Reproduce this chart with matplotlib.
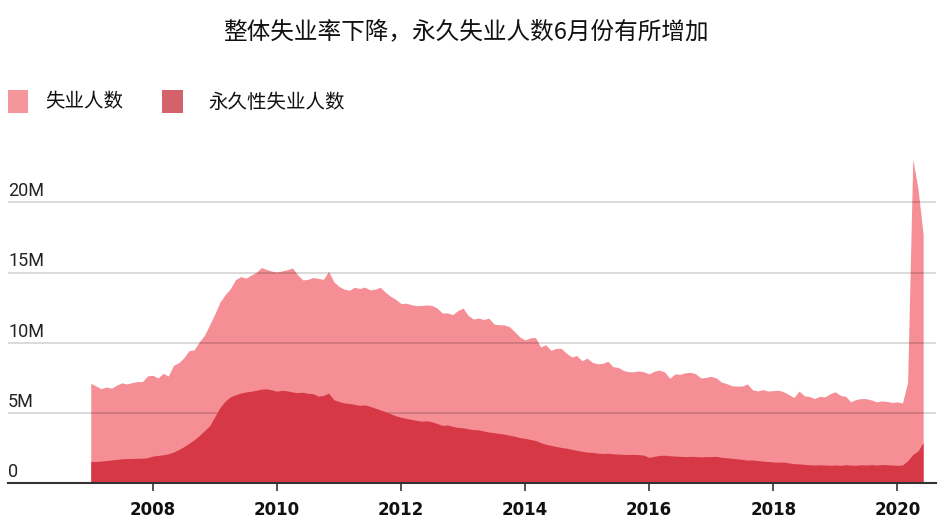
import numpy as np
import matplotlib
matplotlib.use("Agg")
import matplotlib.pyplot as plt
from matplotlib.patches import Rectangle

plt.rcParams['font.family'] = ['Noto Sans CJK SC', 'DejaVu Sans']

# ---------------- data ----------------
title = "整体失业率下降，永久失业人数6月份有所增加"
series_names = ["失业人数", "永久性失业人数"]
start_year = 2007  # monthly data, Jan 2007 - Jun 2020

# total unemployed (millions)
total_unemployed = [
    7.116, 6.927, 6.731, 6.850, 6.766, 6.979, 7.149, 7.067, 7.170, 7.237, 7.240, 7.645,
    7.685, 7.497, 7.822, 7.637, 8.395, 8.575, 8.937, 9.438, 9.494, 10.074, 10.538, 11.286,
    12.058, 12.898, 13.426, 13.853, 14.499, 14.707, 14.601, 14.814, 15.009, 15.352, 15.219, 15.098,
    15.046, 15.113, 15.202, 15.325, 14.849, 14.474, 14.512, 14.648, 14.579, 14.516, 15.081, 14.348,
    14.013, 13.820, 13.737, 13.957, 13.855, 13.962, 13.763, 13.818, 13.948, 13.594, 13.302, 13.093,
    12.797, 12.813, 12.713, 12.646, 12.660, 12.692, 12.656, 12.471, 12.115, 12.124, 12.005, 12.298,
    12.471, 11.950, 11.689, 11.760, 11.654, 11.751, 11.335, 11.279, 11.270, 11.136, 10.787, 10.404,
    10.202, 10.349, 10.380, 9.702, 9.859, 9.460, 9.608, 9.599, 9.262, 8.990, 9.090, 8.717,
    8.903, 8.610, 8.504, 8.526, 8.689, 8.296, 8.248, 8.039, 7.942, 7.938, 7.995, 7.933,
    7.784, 7.980, 8.058, 7.919, 7.468, 7.787, 7.753, 7.867, 7.899, 7.793, 7.497, 7.535,
    7.616, 7.491, 7.196, 7.091, 6.946, 6.919, 6.922, 7.070, 6.655, 6.573, 6.664, 6.566,
    6.594, 6.621, 6.519, 6.319, 6.099, 6.565, 6.227, 6.176, 6.031, 6.185, 6.150, 6.375,
    6.513, 6.260, 6.190, 5.800, 5.962, 6.032, 6.020, 5.932, 5.790, 5.866, 5.826, 5.753,
    5.796, 5.717, 7.185, 23.078, 20.985, 17.697,
]

# permanent job losers (millions)
permanent_losers = [
    1.56, 1.55, 1.58, 1.62, 1.66, 1.70, 1.74, 1.76, 1.77, 1.78, 1.79, 1.82,
    1.94, 1.98, 2.03, 2.10, 2.22, 2.40, 2.60, 2.85, 3.10, 3.40, 3.75, 4.10,
    4.75, 5.40, 5.85, 6.15, 6.30, 6.42, 6.50, 6.55, 6.62, 6.70, 6.72, 6.65,
    6.55, 6.62, 6.58, 6.50, 6.45, 6.48, 6.40, 6.38, 6.20, 6.25, 6.42, 5.95,
    5.82, 5.72, 5.68, 5.62, 5.55, 5.58, 5.48, 5.35, 5.22, 5.10, 4.95, 4.80,
    4.70, 4.62, 4.55, 4.48, 4.42, 4.45, 4.38, 4.25, 4.12, 4.15, 4.05, 3.98,
    3.95, 3.88, 3.82, 3.80, 3.72, 3.65, 3.60, 3.55, 3.50, 3.42, 3.35, 3.25,
    3.20, 3.12, 3.05, 2.90, 2.78, 2.70, 2.62, 2.55, 2.50, 2.42, 2.35, 2.28,
    2.22, 2.20, 2.15, 2.12, 2.14, 2.10, 2.08, 2.06, 2.05, 2.06, 2.04, 2.00,
    1.84, 1.92, 1.98, 2.00, 1.96, 1.94, 1.92, 1.90, 1.92, 1.90, 1.88, 1.90,
    1.90, 1.92, 1.85, 1.82, 1.78, 1.74, 1.70, 1.65, 1.66, 1.62, 1.58, 1.55,
    1.52, 1.50, 1.52, 1.45, 1.40, 1.38, 1.35, 1.32, 1.30, 1.32, 1.30, 1.28,
    1.30, 1.28, 1.32, 1.30, 1.28, 1.32, 1.30, 1.33, 1.30, 1.34, 1.32, 1.30,
    1.28, 1.30, 1.60, 2.05, 2.30, 2.90,
]

x_ticks = [2008, 2010, 2012, 2014, 2016, 2018, 2020]
x_tick_labels = ["2008", "2010", "2012", "2014", "2016", "2018", "2020"]
y_ticks = [0, 5, 10, 15, 20]
y_tick_labels = ["0", "5M", "10M", "15M", "20M"]

# ---------------- style ----------------
light = "#F58E95"
dark = "#D63845"
legend_light = "#F5969C"
legend_dark = "#D4626B"

W, H = 949, 532
fig = plt.figure(figsize=(W / 100, H / 100), dpi=100)
ax = fig.add_axes([8 / W, 48.7 / H, 928 / W, 0.6339])

x = start_year + np.arange(len(total_unemployed)) / 12.0
ax.fill_between(x, total_unemployed, 0, color=light, lw=0, zorder=1)
ax.fill_between(x, permanent_losers, 0, color=dark, lw=0, zorder=3)

for v in y_ticks[1:]:
    ax.axhline(v, color="black", alpha=0.17, lw=1.2, zorder=2)

ax.set_xlim(2005.666, 2020.624)
ax.set_ylim(0, 24)

for s in ["left", "top", "right"]:
    ax.spines[s].set_visible(False)
ax.spines["bottom"].set_color("#333333")
ax.spines["bottom"].set_linewidth(1.5)
ax.spines["bottom"].set_zorder(5)

ax.set_yticks([])
ax.set_xticks(x_ticks)
ax.set_xticklabels(x_tick_labels, fontfamily="DejaVu Sans", fontweight="bold",
                   fontsize=12, color="#111111")
ax.tick_params(axis="x", length=6, width=1.2, color="#333333", pad=7)

for v, lab in zip(y_ticks, y_tick_labels):
    ax.annotate(lab, xy=(0, v), xycoords=("axes fraction", "data"),
                xytext=(0, 4.5), textcoords="offset points",
                ha="left", va="baseline", fontsize=13, fontfamily="Roboto",
                color="#222222", zorder=6)

# title
fig.text(466 / W, 1 - 32 / H, title, ha="center", va="center",
         fontsize=17, color="#111111")

# legend
fig.add_artist(Rectangle((8 / W, 1 - 113 / H), 20 / W, 23 / H,
                         transform=fig.transFigure, color=legend_light, lw=0))
fig.text(45 / W, 1 - 102 / H, series_names[0], ha="left", va="center",
         fontsize=14, color="#111111")
fig.add_artist(Rectangle((162 / W, 1 - 113 / H), 21 / W, 23 / H,
                         transform=fig.transFigure, color=legend_dark, lw=0))
fig.text(208 / W, 1 - 102 / H, series_names[1], ha="left", va="center",
         fontsize=14, color="#111111")

fig.savefig("out.png", dpi=100)
